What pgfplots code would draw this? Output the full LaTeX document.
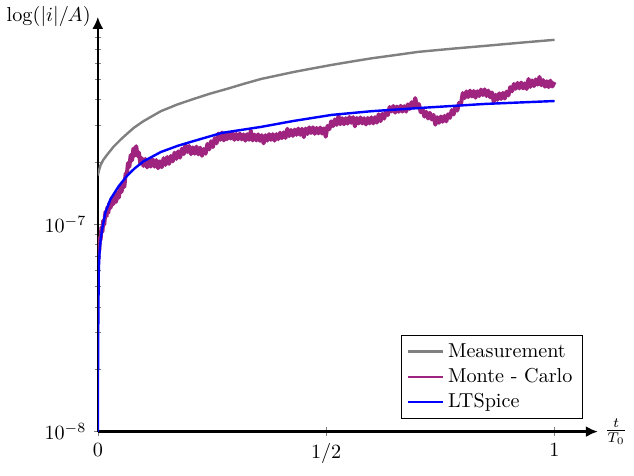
\documentclass[border=0pt]{standalone}
\usepackage{pgfplots}
\pgfplotsset{compat=1.18}
\usetikzlibrary{arrows.meta}
\definecolor{mcpurple}{RGB}{158,36,128}

\begin{document}
\begin{tikzpicture}
\begin{axis}[
  scale only axis,
  width=248pt, height=205.7pt,
  axis lines=left,
  axis line style={line width=1.2pt, -{Latex[length=6pt,width=5.5pt]}},
  xmin=0, xmax=1.095, ymin=-8, ymax=-6,
  xtick={0,0.5,1}, xticklabels={$0$,$1/2$,$1$},
  ytick={-8,-7}, yticklabels={$10^{-8}$,$10^{-7}$},
  minor ytick={-7.699,-7.523,-7.398,-7.301,-7.222,-7.155,-7.097,-7.046,
               -6.699,-6.523,-6.398,-6.301,-6.222,-6.155,-6.097,-6.046},
  every axis x label/.style={at={(axis description cs:1,0)}, anchor=west},
  every axis y label/.style={at={(axis description cs:0,1)}, anchor=east},
  xlabel={$\frac{t}{T_0}$},
  ylabel={$\log(|i|/A)$},
  legend pos=south east,
  legend cell align=left,
  legend style={draw=black, fill=white},
]
% measured current (log10 of |i|/A)
\addplot[gray, line width=1.2pt, line join=round] coordinates {
 (0,-6.765) (0.002,-6.745) (0.006,-6.715) (0.012,-6.690) (0.0197,-6.667)
 (0.035,-6.625) (0.050,-6.592) (0.0635,-6.565) (0.079,-6.535) (0.100,-6.503)
 (0.138,-6.455) (0.175,-6.422) (0.210,-6.396) (0.245,-6.371) (0.282,-6.348)
 (0.320,-6.323) (0.357,-6.300) (0.393,-6.283) (0.429,-6.266) (0.470,-6.249)
 (0.512,-6.232) (0.555,-6.216) (0.600,-6.200) (0.650,-6.185) (0.702,-6.169)
 (0.775,-6.154) (0.849,-6.140) (0.925,-6.125) (1.0,-6.111)
};
\addlegendentry{Measurement}
% Monte-Carlo simulation
\addplot[mcpurple, line width=2pt, line join=round,
         legend image code/.code={\draw[mcpurple, line width=1.2pt] (0cm,0cm) -- (0.6cm,0cm);}]
 coordinates {
 (0.000,-7.135) (0.001,-7.165) (0.002,-7.107) (0.003,-7.130) (0.0045,-7.063)
 (0.006,-7.076) (0.008,-7.015) (0.010,-7.037) (0.012,-6.982) (0.014,-7.002)
 (0.0168,-6.940) (0.019,-6.962) (0.021,-6.918) (0.023,-6.945) (0.025,-6.900)
 (0.028,-6.921) (0.031,-6.873) (0.034,-6.903) (0.037,-6.860) (0.040,-6.892)
 (0.043,-6.849) (0.046,-6.872) (0.049,-6.819) (0.052,-6.844) (0.055,-6.798)
 (0.058,-6.820) (0.061,-6.756) (0.0635,-6.762) (0.066,-6.706) (0.069,-6.723)
 (0.072,-6.667) (0.075,-6.692) (0.078,-6.635) (0.081,-6.669) (0.084,-6.624)
 (0.087,-6.671) (0.090,-6.655) (0.093,-6.707) (0.096,-6.681) (0.100,-6.719)
 (0.104,-6.685) (0.108,-6.726) (0.112,-6.691) (0.116,-6.722) (0.120,-6.687)
 (0.124,-6.722) (0.128,-6.691) (0.132,-6.730) (0.136,-6.697) (0.140,-6.725)
 (0.144,-6.682) (0.148,-6.714) (0.152,-6.676) (0.156,-6.709) (0.160,-6.671)
 (0.164,-6.697) (0.168,-6.655) (0.172,-6.685) (0.176,-6.649) (0.180,-6.679)
 (0.184,-6.636) (0.188,-6.662) (0.192,-6.618) (0.196,-6.652) (0.200,-6.623)
 (0.204,-6.662) (0.208,-6.630) (0.212,-6.660) (0.216,-6.626) (0.220,-6.663)
 (0.224,-6.631) (0.228,-6.670) (0.232,-6.638) (0.236,-6.660) (0.240,-6.613)
 (0.244,-6.639) (0.248,-6.600) (0.252,-6.628) (0.256,-6.585) (0.260,-6.610)
 (0.264,-6.563) (0.268,-6.593) (0.272,-6.558) (0.276,-6.596) (0.280,-6.562)
 (0.283,-6.590) (0.287,-6.559) (0.291,-6.587) (0.295,-6.561) (0.299,-6.593)
 (0.303,-6.565) (0.307,-6.591) (0.311,-6.563) (0.315,-6.591) (0.319,-6.567)
 (0.323,-6.597) (0.327,-6.566) (0.331,-6.593) (0.335,-6.550) (0.339,-6.596)
 (0.343,-6.568) (0.347,-6.596) (0.351,-6.567) (0.355,-6.598) (0.359,-6.571)
 (0.363,-6.610) (0.367,-6.571) (0.371,-6.597) (0.375,-6.566) (0.379,-6.593)
 (0.383,-6.566) (0.387,-6.597) (0.391,-6.566) (0.395,-6.590) (0.399,-6.559)
 (0.403,-6.585) (0.407,-6.557) (0.411,-6.584) (0.415,-6.540) (0.419,-6.575)
 (0.423,-6.546) (0.427,-6.574) (0.431,-6.544) (0.435,-6.569) (0.439,-6.539)
 (0.443,-6.569) (0.447,-6.540) (0.451,-6.580) (0.455,-6.539) (0.459,-6.565)
 (0.463,-6.533) (0.467,-6.560) (0.471,-6.533) (0.475,-6.564) (0.479,-6.536)
 (0.483,-6.562) (0.487,-6.534) (0.491,-6.563) (0.495,-6.538) (0.499,-6.578)
 (0.503,-6.526) (0.507,-6.542) (0.511,-6.504) (0.515,-6.527) (0.519,-6.495)
 (0.523,-6.521) (0.527,-6.478) (0.531,-6.518) (0.535,-6.489) (0.539,-6.518)
 (0.543,-6.489) (0.547,-6.515) (0.551,-6.483) (0.555,-6.511) (0.559,-6.484)
 (0.563,-6.528) (0.567,-6.488) (0.571,-6.514) (0.575,-6.485) (0.579,-6.514)
 (0.583,-6.489) (0.587,-6.519) (0.591,-6.488) (0.595,-6.514) (0.599,-6.485)
 (0.603,-6.514) (0.607,-6.484) (0.611,-6.510) (0.615,-6.470) (0.619,-6.503)
 (0.623,-6.468) (0.627,-6.491) (0.631,-6.455) (0.635,-6.474) (0.639,-6.435)
 (0.643,-6.456) (0.647,-6.430) (0.651,-6.462) (0.655,-6.433) (0.659,-6.458)
 (0.663,-6.429) (0.667,-6.457) (0.671,-6.431) (0.675,-6.457) (0.679,-6.422)
 (0.683,-6.444) (0.687,-6.412) (0.691,-6.438) (0.695,-6.392) (0.699,-6.437)
 (0.703,-6.421) (0.707,-6.460) (0.711,-6.444) (0.715,-6.481) (0.719,-6.458)
 (0.723,-6.490) (0.727,-6.463) (0.731,-6.495) (0.735,-6.473) (0.739,-6.520)
 (0.743,-6.484) (0.747,-6.511) (0.751,-6.481) (0.755,-6.506) (0.759,-6.478)
 (0.763,-6.504) (0.767,-6.470) (0.771,-6.487) (0.775,-6.450) (0.779,-6.471)
 (0.783,-6.433) (0.787,-6.452) (0.791,-6.415) (0.795,-6.423) (0.799,-6.368)
 (0.803,-6.392) (0.807,-6.360) (0.811,-6.387) (0.815,-6.356) (0.819,-6.384)
 (0.823,-6.358) (0.827,-6.390) (0.831,-6.359) (0.835,-6.382) (0.839,-6.351)
 (0.843,-6.377) (0.847,-6.350) (0.851,-6.382) (0.855,-6.356) (0.859,-6.388)
 (0.863,-6.365) (0.867,-6.410) (0.871,-6.376) (0.875,-6.400) (0.879,-6.369)
 (0.883,-6.396) (0.887,-6.367) (0.891,-6.394) (0.895,-6.361) (0.899,-6.379)
 (0.903,-6.339) (0.907,-6.359) (0.911,-6.324) (0.915,-6.347) (0.919,-6.319)
 (0.923,-6.345) (0.927,-6.317) (0.931,-6.345) (0.935,-6.321) (0.939,-6.348)
 (0.943,-6.300) (0.947,-6.338) (0.951,-6.307) (0.955,-6.334) (0.959,-6.302)
 (0.963,-6.327) (0.967,-6.290) (0.971,-6.330) (0.975,-6.305) (0.979,-6.337)
 (0.983,-6.311) (0.987,-6.339) (0.991,-6.308) (0.995,-6.336) (1.000,-6.314)
};
\addlegendentry{Monte - Carlo}
% LTSpice simulation
\addplot[blue, line width=1.2pt, line join=round] coordinates {
 (0,-8.0) (0.0003,-7.80) (0.0008,-7.55) (0.0014,-7.38) (0.0022,-7.217)
 (0.004,-7.130) (0.0065,-7.070) (0.0094,-7.024) (0.0168,-6.942)
 (0.0278,-6.879) (0.046,-6.816) (0.0635,-6.768) (0.080,-6.732)
 (0.1007,-6.696) (0.138,-6.652) (0.175,-6.622) (0.210,-6.599)
 (0.271,-6.560) (0.357,-6.531) (0.429,-6.502) (0.512,-6.473)
 (0.600,-6.455) (0.702,-6.440) (0.849,-6.420) (1.0,-6.406)
};
\addlegendentry{LTSpice}
\end{axis}
% a little extra room below the axis
\path (current bounding box.south east) ++(0pt,-3pt);
\end{tikzpicture}
\end{document}
